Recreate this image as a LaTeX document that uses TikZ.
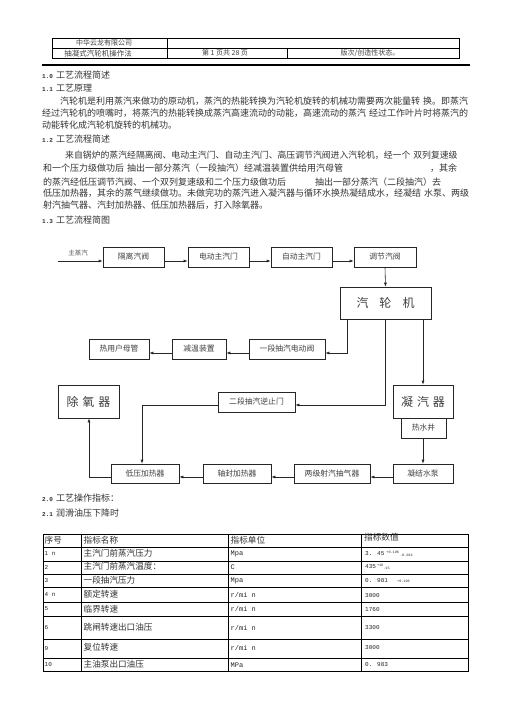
\documentclass[tikz,border=0pt]{standalone}
\usepackage{fontspec}
\setmainfont{Liberation Serif}
\newfontfamily\cjk{Noto Sans CJK SC}
\newfontfamily\monof{Liberation Mono}
\usetikzlibrary{arrows.meta}
\tikzset{
 txt/.style={inner sep=0, anchor=west, text=black!80, font=\cjk\fontsize{9}{9}\selectfont},
 htxt/.style={inner sep=0, text=black!75, font=\cjk\fontsize{7}{7}\selectfont},
 fbox/.style={draw=black!85, line width=0.6pt, inner sep=0, text=black!75, font=\cjk\fontsize{7.8}{8}\selectfont, minimum height=20pt},
 bigbox/.style={fbox, font=\cjk\fontsize{12}{12}\selectfont},
 flow/.style={line width=0.6pt, draw=black!85},
 arr/.style={flow, -{Latex[length=4pt,width=3pt]}},
 tline/.style={line width=0.7pt},
 ttxt/.style={inner sep=0, anchor=west, text=black!80, font=\cjk\fontsize{8.6}{8.6}\selectfont},
 tmono/.style={inner sep=0, anchor=west, text=black!85, font=\monof\fontsize{7}{7}\selectfont},
 tval/.style={inner sep=0, anchor=west, text=black!85, font=\monof\fontsize{6}{6}\selectfont}
}
\newcommand{\numhd}[1]{{\monof\bfseries\fontsize{6}{6}\selectfont #1}\hspace{3pt}}
\newcommand{\tinyf}{\fontsize{3.5}{3.5}\selectfont}
\begin{document}
\begin{tikzpicture}[x=1pt,y=-1pt]
\useasboundingbox (0,0) rectangle (505,714);
\fill[white] (0,0) rectangle (505,714);

% header table
\draw[line width=0.6pt] (52,38) rectangle (459,58);
\draw[line width=0.6pt] (52,48) -- (459,48);
\draw[line width=0.6pt] (167,38) -- (167,58);
\draw[line width=0.6pt] (287,48) -- (287,58);
\node[htxt] (hc) at (104,42.6) {中华云龙有限公司};
\node[htxt, font=\cjk\fontsize{7.5}{7.5}\selectfont] (hm) at (98,53.2) {抽凝式汽轮机操作法};
\node[htxt] (hp) at (225,53.2) {第 1 页共 28 页};
\node[htxt] (hv) at (370,53.2) {版次/创造性状态。};
\draw[line width=1.4pt] (42,65) -- (470,65);

% section text
\node[txt] (h10) at (42,75) {\numhd{1.0}工艺流程简述};
\node[txt] (h11) at (42,88) {\numhd{1.1}工艺原理};
\node[txt] (p1a) at (60,101) {汽轮机是利用蒸汽来做功的原动机，蒸汽的热能转换为汽轮机旋转的机械功需要两次能量转\hspace{3pt}换。即蒸汽};
\node[txt] (p1b) at (42,113.3) {经过汽轮机的喷嘴时，将蒸汽的热能转换成蒸汽高速流动的动能，高速流动的蒸汽\hspace{3pt}经过工作叶片时将蒸汽的};
\node[txt] (p1c) at (42,125) {动能转化成汽轮机旋转的机械功。};
\node[txt] (h12) at (42,139.5) {\numhd{1.2}工艺流程简述};
\node[txt, font=\cjk\fontsize{8.85}{8.85}\selectfont] (p2a) at (65,155) {来自锅炉的蒸汽经隔离阀、电动主汽门、自动主汽门、高压调节汽阀进入汽轮机，经一个\hspace{3pt}双列复速级};
\node[txt] (p2b) at (43,168.3) {和一个压力级做功后\hspace{3pt}抽出一部分蒸汽（一段抽汽）经减温装置供给用汽母管};
\node[txt] (p2b2) at (430,168.3) {，其余};
\node[txt] (p2c) at (43,181.7) {的蒸汽经低压调节汽阀、一个双列复速级和二个压力级做功后};
\node[txt] (p2c2) at (315,181.7) {抽出一部分蒸汽（二段抽汽）去};
\node[txt] (p2d) at (43,193.3) {低压加热器，其余的蒸气继续做功。未做完功的蒸汽进入凝汽器与循环水换热凝结成水，经凝结\hspace{3pt}水泵、两级};
\node[txt] (p2e) at (43,205) {射汽抽气器、汽封加热器、低压加热器后，打入除氧器。};
\node[txt] (h13) at (42,220) {\numhd{1.3}工艺流程简图};

% flow diagram
\node[htxt, font=\cjk\fontsize{6.5}{6.5}\selectfont, text=black!65] (zqq) at (78,253) {主蒸汽};
\coordinate (s0) at (58,261);
\node[fbox, minimum width=61pt] (gl) at (133.5,257) {隔离汽阀};
\node[fbox, minimum width=61pt] (dd) at (218.5,257) {电动主汽门};
\node[fbox, minimum width=61pt] (zd) at (301.5,257) {自动主汽门};
\node[fbox, minimum width=62pt] (tj) at (385,257) {调节汽阀};
\node[bigbox, minimum width=91pt, minimum height=32pt] (qlj) at (385.5,303) {汽\hspace{11pt}轮\hspace{11pt}机};
\node[fbox, minimum width=76pt] (yd) at (287,349) {一段抽汽电动阀};
\node[fbox, minimum width=54pt] (jw) at (199,349) {减温装置};
\node[fbox, minimum width=60pt] (ry) at (119,349) {热用户母管};
\node[fbox, minimum width=77pt] (ed) at (256.5,402) {二段抽汽逆止门};
\node[bigbox, minimum width=60pt, minimum height=33pt] (nq) at (423,401.5) {凝\hspace{4pt}汽\hspace{4pt}器};
\node[fbox, minimum width=45pt] (rsj) at (423.5,428) {热水井};
\node[bigbox, minimum width=61pt, minimum height=33pt] (cy) at (88.5,401.5) {除\hspace{4pt}氧\hspace{4pt}器};
\node[fbox, minimum width=60pt, minimum height=19pt] (nj) at (423,473.5) {凝结水泵};
\node[fbox, minimum width=76pt, minimum height=19pt] (lj) at (332,473.5) {两级射汽抽气器};
\node[fbox, minimum width=68pt, minimum height=19pt] (zf) at (237,473.5) {轴封加热器};
\node[fbox, minimum width=68pt, minimum height=19pt] (dy) at (145,473.5) {低压加热器};

\draw[arr] (s0) -- (s0 -| gl.west);
\draw[arr] ([yshift=-4pt]gl.east) -- ([yshift=-4pt]dd.west);
\draw[arr] ([yshift=-4pt]dd.east) -- ([yshift=-4pt]zd.west);
\draw[arr] ([yshift=-4pt]zd.east) -- ([yshift=-4pt]tj.west);
\draw[arr] (tj.south) -- (qlj.north);

\coordinate (c1) at (347,353);
\draw[arr] (c1 |- qlj.south) -- (c1) -- (c1 -| yd.east);
\draw[arr] ([yshift=-4pt]yd.west) -- ([yshift=-4pt]jw.east);
\draw[arr] ([yshift=-4pt]jw.west) -- ([yshift=-4pt]ry.east);

\coordinate (c2) at (385,405);
\draw[arr] (c2 |- qlj.south) -- (c2) -- (c2 -| ed.east);
\coordinate (c3) at (142,405);
\draw[arr] (c3 -| ed.west) -- (c3) -- (c3 |- dy.north);

\coordinate (c4) at (423,330);
\draw[arr] (c4 |- qlj.south) -- (c4 |- nq.north);
\draw[arr] (rsj.south -| nj.north) -- (nj.north);

\draw[arr] ([yshift=-3.5pt]nj.west) -- ([yshift=-3.5pt]lj.east);
\draw[arr] ([yshift=-3.5pt]lj.west) -- ([yshift=-3.5pt]zf.east);
\draw[arr] ([yshift=-3.5pt]zf.west) -- ([yshift=-3.5pt]dy.east);
\coordinate (c5) at (89,477);
\draw[arr] (c5 -| dy.west) -- (c5) -- (c5 |- cy.south);

% section 2
\node[txt] (h20) at (42,498) {\numhd{2.0}工艺操作指标：};
\node[txt] (h21) at (42,513) {\numhd{2.1}润滑油压下降时};

% table
\draw[line width=1pt] (43.5,534) rectangle (468.3,671);
\foreach \yy in {547,561,574,587,602,616,639,658}
  \draw[tline] (43.5,\yy) -- (468.3,\yy);
\foreach \xx in {81.7,228.3,361.7}
  \draw[tline] (\xx,534) -- (\xx,671);

\node[ttxt] (t00) at (44.5,540.5) {序号};
\node[ttxt] (t01) at (83.5,540.5) {指标名称};
\node[ttxt] (t02) at (230.5,540.5) {指标单位};
\node[ttxt] (t03) at (364,537.5) {指标数值};

\node[tval] (t10) at (44.5,553.5) {1 n};
\node[ttxt] (t11) at (83.5,553.5) {主汽门前蒸汽压力};
\node[tmono] (t12) at (230.5,553.5) {Mpa};
\node[tval] (t13) at (365,553.5) {3. 45\hspace{2pt}\raisebox{2pt}{\tinyf +0.196}\hspace{1pt}\raisebox{-1pt}{\tinyf -0.294}};

\node[tval] (t20) at (44.5,567.5) {2};
\node[ttxt] (t21) at (83.5,566.5) {主汽门前蒸汽温度：};
\node[tmono] (t22) at (230.5,567) {C};
\node[tval] (t23) at (365,567) {435\hspace{1pt}\raisebox{2pt}{\tinyf +10}\raisebox{-1pt}{\tinyf -15}};

\node[tval] (t30) at (44.5,580.5) {3};
\node[ttxt] (t31) at (83.5,580.5) {一段抽汽压力};
\node[tmono] (t32) at (230.5,580.5) {Mpa};
\node[tval] (t33) at (365,580.5) {0. 981};
\node[tval, font=\monof\tinyf] (t33b) at (397,581) {+0.196};

\node[tval] (t40) at (44.5,594.5) {4 n};
\node[ttxt] (t41) at (83.5,594.5) {额定转速};
\node[tmono] (t42) at (230.5,595) {r/mi n};
\node[tval] (t43) at (365,595.5) {3000};

\node[tval] (t50) at (44.5,609) {5};
\node[ttxt] (t51) at (83.5,609) {临界转速};
\node[tmono] (t52) at (230.5,609) {r/mi n};
\node[tval] (t53) at (365,609.5) {1760};

\node[tval] (t60) at (44.5,627.5) {6};
\node[ttxt] (t61) at (83.5,627) {跳闸转速出口油压};
\node[tmono] (t62) at (230.5,627.5) {r/mi n};
\node[tval] (t63) at (365,627.5) {3300};

\node[tval] (t70) at (44.5,648.5) {9};
\node[ttxt] (t71) at (83.5,647.5) {复位转速};
\node[tmono] (t72) at (230.5,647.5) {r/mi n};
\node[tval] (t73) at (365,647.5) {3000};

\node[tval] (t80) at (44.5,665) {10};
\node[ttxt] (t81) at (83.5,664.5) {主油泵出口油压};
\node[tmono] (t82) at (230.5,665) {MPa};
\node[tval] (t83) at (365,665) {0. 983};
\end{tikzpicture}
\end{document}
